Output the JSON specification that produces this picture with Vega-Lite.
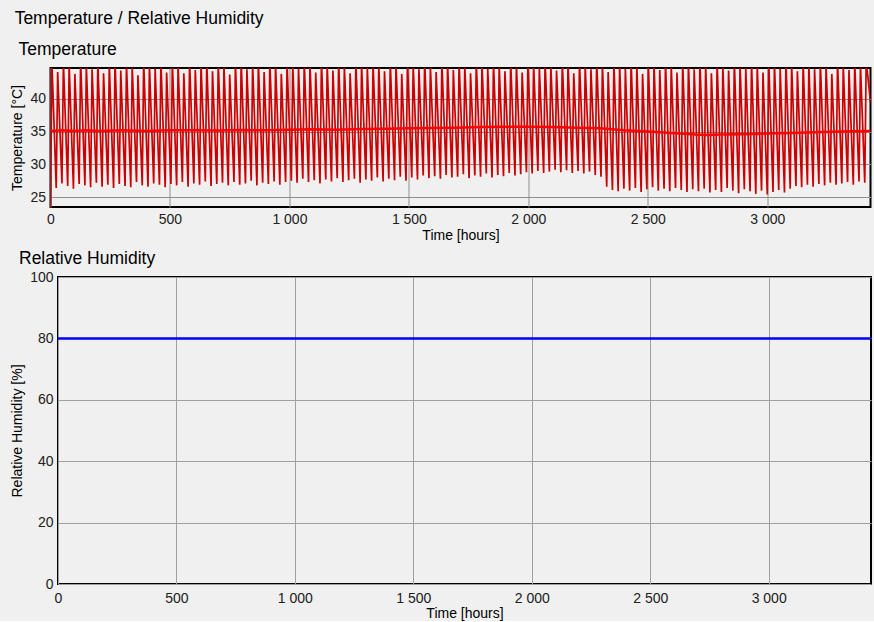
{
  "$schema": "https://vega.github.io/schema/vega-lite/v6.json",
  "background": "#f0f0f0",
  "padding": {"left": 9.5, "top": 10, "right": -5, "bottom": 0},
  "title": {"text": "Temperature / Relative Humidity", "anchor": "start", "frame": "bounds", "fontSize": 17.5, "fontWeight": "normal", "font": "Liberation Sans", "color": "#000000", "dx": 5, "offset": 12},
  "config": {
    "font": "Liberation Sans",
    "view": {"stroke": "#000000", "strokeWidth": 2, "fill": "#f0f0f0"},
    "axis": {"grid": true, "gridColor": "#a0a0a0", "gridWidth": 1, "ticks": false, "domain": false, "labelFlush": false, "labelOverlap": false, "labelFontSize": 14, "labelColor": "#202020", "titleFontSize": 14, "titleFontWeight": "normal", "titleColor": "#000000", "labelFont": "Liberation Sans", "titleFont": "Liberation Sans"},
    "title": {"fontWeight": "normal", "color": "#000000", "font": "Liberation Sans"}
  },
  "datasets": {
    "temp": [
      {"t":0,"v":23.5},{"t":6,"v":45.5},{"t":24,"v":26.4},{"t":30,"v":44.1},{"t":48,"v":27.1},{"t":54,"v":45.6},{"t":72,"v":26.7},{"t":78,"v":45.2},{"t":96,"v":26.3},{"t":102,"v":43.8},
      {"t":120,"v":27.0},{"t":126,"v":45.9},{"t":144,"v":26.8},{"t":150,"v":45.1},{"t":168,"v":26.5},{"t":174,"v":44.5},{"t":192,"v":27.2},{"t":198,"v":45.7},{"t":216,"v":26.6},{"t":222,"v":43.9},
      {"t":240,"v":26.9},{"t":246,"v":45.3},{"t":264,"v":26.4},{"t":270,"v":45.8},{"t":288,"v":27.0},{"t":294,"v":44.3},{"t":312,"v":26.7},{"t":318,"v":45.4},{"t":336,"v":26.5},{"t":342,"v":45.0},
      {"t":360,"v":27.3},{"t":366,"v":43.6},{"t":384,"v":26.8},{"t":390,"v":45.7},{"t":408,"v":26.6},{"t":414,"v":45.2},{"t":432,"v":27.1},{"t":438,"v":44.6},{"t":456,"v":26.9},{"t":462,"v":45.9},
      {"t":480,"v":26.5},{"t":486,"v":44.0},{"t":504,"v":27.0},{"t":510,"v":45.5},{"t":528,"v":26.8},{"t":534,"v":45.1},{"t":552,"v":27.3},{"t":558,"v":43.9},{"t":576,"v":26.6},{"t":582,"v":45.8},
      {"t":600,"v":27.1},{"t":606,"v":44.4},{"t":624,"v":26.9},{"t":630,"v":45.3},{"t":648,"v":27.4},{"t":654,"v":45.7},{"t":672,"v":26.7},{"t":678,"v":44.2},{"t":696,"v":27.0},{"t":702,"v":45.6},
      {"t":720,"v":27.2},{"t":726,"v":45.0},{"t":744,"v":26.8},{"t":750,"v":43.7},{"t":768,"v":27.3},{"t":774,"v":45.4},{"t":792,"v":26.9},{"t":798,"v":45.9},{"t":816,"v":27.1},{"t":822,"v":44.5},
      {"t":840,"v":27.5},{"t":846,"v":45.2},{"t":864,"v":26.8},{"t":870,"v":45.6},{"t":888,"v":27.2},{"t":894,"v":44.1},{"t":912,"v":27.0},{"t":918,"v":45.8},{"t":936,"v":27.4},{"t":942,"v":45.3},
      {"t":960,"v":26.9},{"t":966,"v":43.8},{"t":984,"v":27.3},{"t":990,"v":45.5},{"t":1008,"v":27.5},{"t":1014,"v":45.1},{"t":1032,"v":27.2},{"t":1038,"v":44.6},{"t":1056,"v":27.8},{"t":1062,"v":45.7},
      {"t":1080,"v":27.3},{"t":1086,"v":45.4},{"t":1104,"v":27.6},{"t":1110,"v":44.0},{"t":1128,"v":27.1},{"t":1134,"v":45.9},{"t":1152,"v":27.7},{"t":1158,"v":45.2},{"t":1176,"v":27.4},{"t":1182,"v":44.3},
      {"t":1200,"v":27.9},{"t":1206,"v":45.6},{"t":1224,"v":27.3},{"t":1230,"v":45.0},{"t":1248,"v":27.6},{"t":1254,"v":43.9},{"t":1272,"v":27.8},{"t":1278,"v":45.8},{"t":1296,"v":27.2},{"t":1302,"v":45.3},
      {"t":1320,"v":27.7},{"t":1326,"v":44.7},{"t":1344,"v":27.5},{"t":1350,"v":45.5},{"t":1368,"v":28.0},{"t":1374,"v":45.1},{"t":1392,"v":27.4},{"t":1398,"v":44.2},{"t":1416,"v":27.8},{"t":1422,"v":45.7},
      {"t":1440,"v":27.6},{"t":1446,"v":45.4},{"t":1464,"v":28.1},{"t":1470,"v":43.8},{"t":1488,"v":27.5},{"t":1494,"v":45.6},{"t":1512,"v":28.0},{"t":1518,"v":45.2},{"t":1536,"v":27.7},{"t":1542,"v":44.5},
      {"t":1560,"v":28.3},{"t":1566,"v":45.9},{"t":1584,"v":27.9},{"t":1590,"v":45.0},{"t":1608,"v":28.2},{"t":1614,"v":44.1},{"t":1632,"v":27.8},{"t":1638,"v":45.7},{"t":1656,"v":28.4},{"t":1662,"v":45.3},
      {"t":1680,"v":28.0},{"t":1686,"v":44.4},{"t":1704,"v":28.1},{"t":1710,"v":45.6},{"t":1728,"v":28.5},{"t":1734,"v":45.1},{"t":1752,"v":27.9},{"t":1758,"v":43.9},{"t":1776,"v":28.3},{"t":1782,"v":45.8},
      {"t":1800,"v":28.1},{"t":1806,"v":45.4},{"t":1824,"v":28.6},{"t":1830,"v":44.6},{"t":1848,"v":28.0},{"t":1854,"v":45.5},{"t":1872,"v":28.4},{"t":1878,"v":45.0},{"t":1896,"v":28.2},{"t":1902,"v":44.2},
      {"t":1920,"v":28.7},{"t":1926,"v":45.7},{"t":1944,"v":28.3},{"t":1950,"v":45.3},{"t":1968,"v":28.5},{"t":1974,"v":44.0},{"t":1992,"v":28.8},{"t":1998,"v":45.6},{"t":2016,"v":28.6},{"t":2022,"v":45.2},
      {"t":2040,"v":29.0},{"t":2046,"v":44.7},{"t":2064,"v":28.7},{"t":2070,"v":45.8},{"t":2088,"v":28.9},{"t":2094,"v":45.1},{"t":2112,"v":29.2},{"t":2118,"v":44.3},{"t":2136,"v":28.8},{"t":2142,"v":45.6},
      {"t":2160,"v":29.1},{"t":2166,"v":45.4},{"t":2184,"v":28.7},{"t":2190,"v":43.9},{"t":2208,"v":29.0},{"t":2214,"v":45.7},{"t":2232,"v":28.6},{"t":2238,"v":45.0},{"t":2256,"v":28.9},{"t":2262,"v":44.5},
      {"t":2280,"v":28.4},{"t":2286,"v":45.9},{"t":2304,"v":28.1},{"t":2310,"v":45.3},{"t":2328,"v":26.6},{"t":2334,"v":44.1},{"t":2352,"v":26.1},{"t":2358,"v":45.6},{"t":2376,"v":25.9},{"t":2382,"v":45.2},
      {"t":2400,"v":26.3},{"t":2406,"v":44.6},{"t":2424,"v":26.0},{"t":2430,"v":45.8},{"t":2448,"v":26.4},{"t":2454,"v":45.0},{"t":2472,"v":25.8},{"t":2478,"v":43.8},{"t":2496,"v":26.2},{"t":2502,"v":45.5},
      {"t":2520,"v":26.5},{"t":2526,"v":45.3},{"t":2544,"v":26.0},{"t":2550,"v":44.4},{"t":2568,"v":26.3},{"t":2574,"v":45.7},{"t":2592,"v":25.9},{"t":2598,"v":45.1},{"t":2616,"v":26.4},{"t":2622,"v":44.0},
      {"t":2640,"v":26.1},{"t":2646,"v":45.6},{"t":2664,"v":25.8},{"t":2670,"v":45.4},{"t":2688,"v":26.2},{"t":2694,"v":44.5},{"t":2712,"v":25.9},{"t":2718,"v":45.9},{"t":2736,"v":26.3},{"t":2742,"v":45.2},
      {"t":2760,"v":25.7},{"t":2766,"v":43.9},{"t":2784,"v":26.1},{"t":2790,"v":45.6},{"t":2808,"v":25.8},{"t":2814,"v":45.0},{"t":2832,"v":26.4},{"t":2838,"v":44.3},{"t":2856,"v":26.0},{"t":2862,"v":45.8},
      {"t":2880,"v":25.6},{"t":2886,"v":45.3},{"t":2904,"v":26.2},{"t":2910,"v":44.7},{"t":2928,"v":25.9},{"t":2934,"v":45.5},{"t":2952,"v":25.5},{"t":2958,"v":45.1},{"t":2976,"v":26.0},{"t":2982,"v":44.0},
      {"t":3000,"v":25.4},{"t":3006,"v":45.7},{"t":3024,"v":25.8},{"t":3030,"v":45.4},{"t":3048,"v":26.1},{"t":3054,"v":44.6},{"t":3072,"v":25.7},{"t":3078,"v":45.9},{"t":3096,"v":26.3},{"t":3102,"v":45.2},
      {"t":3120,"v":26.7},{"t":3126,"v":44.2},{"t":3144,"v":26.5},{"t":3150,"v":45.6},{"t":3168,"v":26.9},{"t":3174,"v":45.0},{"t":3192,"v":26.6},{"t":3198,"v":44.5},{"t":3216,"v":27.0},{"t":3222,"v":45.8},
      {"t":3240,"v":26.8},{"t":3246,"v":45.3},{"t":3264,"v":27.2},{"t":3270,"v":43.8},{"t":3288,"v":26.9},{"t":3294,"v":45.7},{"t":3312,"v":27.1},{"t":3318,"v":45.1},{"t":3336,"v":27.3},{"t":3342,"v":44.4},
      {"t":3360,"v":26.9},{"t":3366,"v":45.6},{"t":3384,"v":27.4},{"t":3390,"v":45.2},{"t":3408,"v":27.2},{"t":3414,"v":45.8},{"t":3432,"v":39.5}
    ],
    "mean": [
      {"t":0,"v":35.1},{"t":50,"v":35.2},{"t":100,"v":35.1},{"t":150,"v":35.2},{"t":200,"v":35.1},{"t":300,"v":35.2},{"t":400,"v":35.1},{"t":500,"v":35.2},{"t":600,"v":35.2},{"t":700,"v":35.15},
      {"t":800,"v":35.25},{"t":900,"v":35.2},{"t":1000,"v":35.3},{"t":1100,"v":35.35},{"t":1200,"v":35.3},{"t":1300,"v":35.4},{"t":1400,"v":35.45},{"t":1500,"v":35.5},{"t":1600,"v":35.55},{"t":1700,"v":35.6},
      {"t":1800,"v":35.7},{"t":1900,"v":35.75},{"t":2000,"v":35.75},{"t":2100,"v":35.7},{"t":2200,"v":35.6},{"t":2300,"v":35.5},{"t":2400,"v":35.2},{"t":2500,"v":35.0},{"t":2600,"v":34.8},{"t":2700,"v":34.55},
      {"t":2750,"v":34.5},{"t":2800,"v":34.55},{"t":2900,"v":34.6},{"t":3000,"v":34.7},{"t":3100,"v":34.8},{"t":3200,"v":34.9},{"t":3300,"v":35.0},{"t":3432,"v":35.1}
    ],
    "rh": [{"t":0,"v":80},{"t":3432,"v":80}]
  },
  "concat": [
    {
      "title": {"text": "Temperature", "anchor": "start", "frame": "group", "fontSize": 17.5, "dx": -32, "offset": 10},
      "width": 820,
      "height": 139,
      "resolve": {"scale": {"y": "independent"}, "axis": {"y": "independent"}},
      "layer": [
        {
          "data": {"name": "temp"},
          "mark": {"type": "line", "color": "#cc0000", "strokeWidth": 1.7, "clip": true},
          "encoding": {
            "x": {"field": "t", "type": "quantitative", "scale": {"domain": [0, 3432], "nice": false, "zero": false},
                  "axis": {"values": [0, 500, 1000, 1500, 2000, 2500, 3000], "labelExpr": "replace(format(datum.value, ','), ',', ' ')", "title": "Time [hours]", "labelPadding": 5, "titlePadding": 2, "gridColor": "#909090"}},
            "y": {"field": "v", "type": "quantitative", "scale": {"domain": [23.5, 44.7], "nice": false, "zero": false},
                  "axis": {"values": [25, 30, 35, 40], "title": "Temperature [°C]", "labelPadding": 5, "titlePadding": 5, "gridColor": "#909090"}}
          }
        },
        {
          "data": {"name": "mean"},
          "mark": {"type": "line", "color": "#ff0000", "strokeWidth": 2.5, "clip": true},
          "encoding": {
            "x": {"field": "t", "type": "quantitative"},
            "y": {"field": "v", "type": "quantitative", "scale": {"domain": [23.5, 44.7], "nice": false, "zero": false},
                  "axis": {"orient": "right", "labels": false, "ticks": false, "domain": false, "grid": false, "title": null, "minExtent": 8, "maxExtent": 8}}
          }
        }
      ]
    },
    {
      "title": {"text": "Relative Humidity", "anchor": "start", "frame": "group", "fontSize": 17.5, "dx": -39, "offset": 3},
      "width": 813,
      "height": 307,
      "data": {"name": "rh"},
      "mark": {"type": "line", "color": "#0000ff", "strokeWidth": 2.5, "clip": true},
      "encoding": {
        "x": {"field": "t", "type": "quantitative", "scale": {"domain": [0, 3432], "nice": false, "zero": false},
              "axis": {"values": [0, 500, 1000, 1500, 2000, 2500, 3000], "labelExpr": "replace(format(datum.value, ','), ',', ' ')", "title": "Time [hours]", "labelPadding": 7, "titlePadding": 1}},
        "y": {"field": "v", "type": "quantitative", "scale": {"domain": [0, 100], "nice": false, "zero": false},
              "axis": {"values": [0, 20, 40, 60, 80, 100], "title": "Relative Humidity [%]", "labelPadding": 5, "titlePadding": 5}}
      }
    }
  ],
  "columns": 1,
  "center": true,
  "spacing": 5,
  "resolve": {"scale": {"x": "independent", "y": "independent"}}
}
